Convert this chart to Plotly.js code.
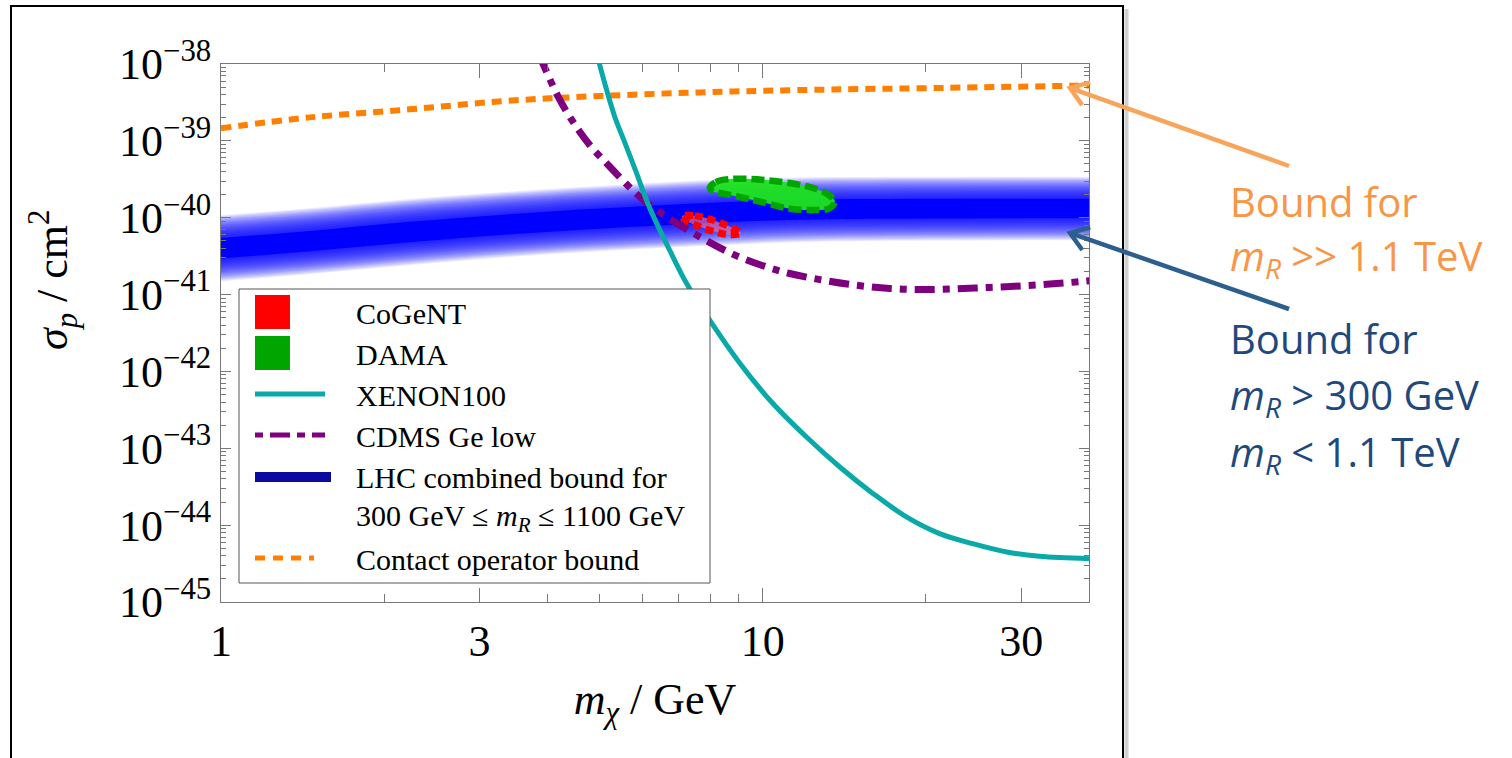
<!DOCTYPE html>
<html><head><meta charset="utf-8">
<script src="https://cdn.plot.ly/plotly-3.0.1.min.js"></script>
<style>html,body{margin:0;padding:0;background:#fff;overflow:hidden}#chart{width:1512px;height:758px}</style>
</head><body><div id="chart"></div>
<script>
// ---------- data ----------
const massTicks = [1, 3, 10, 30];
const massTickText = ['1', '3', '10', '30'];
const massMinorTicks = [2, 4, 5, 6, 7, 8, 9, 20, 40];
const sigmaTicks = [1e-38, 1e-39, 1e-40, 1e-41, 1e-42, 1e-43, 1e-44, 1e-45];
const sigmaTickText = ['10<sup>−38</sup>', '10<sup>−39</sup>', '10<sup>−40</sup>', '10<sup>−41</sup>',
                       '10<sup>−42</sup>', '10<sup>−43</sup>', '10<sup>−44</sup>', '10<sup>−45</sup>'];

const contactMass  = [1, 1.46, 2.23, 3.37, 5.0, 7.65, 11.5, 22, 40];
const contactSigma = [1.46e-39, 2.02e-39, 2.57e-39, 3.31e-39, 3.83e-39, 4.27e-39, 4.57e-39, 4.9e-39, 5.25e-39];

const lhcMass  = [1, 1.46, 2.23, 3.37, 5.0, 7.65, 11.5, 22, 40];
const lhcUpper = [1.08e-40, 1.33e-40, 1.75e-40, 2.17e-40, 2.58e-40, 3.04e-40, 3.33e-40, 3.41e-40, 3.41e-40];
const lhcLower = [1.49e-41, 1.85e-41, 2.42e-41, 3.07e-41, 3.67e-41, 4.27e-41, 4.81e-41, 5.04e-41, 5.1e-41];

const xenonMass  = [4.96, 5.15, 5.33, 5.57, 5.85, 6.10, 6.37, 6.73, 7.23, 7.98, 9.07, 10.43, 12.04, 13.87, 15.96, 18.41, 21.2, 24.4, 28.2, 32.4, 40];
const xenonSigma = [1.2e-38, 4.58e-39, 2.06e-39, 9.27e-40, 3.78e-40, 1.69e-40, 8.43e-41, 3.78e-41, 1.40e-41, 4.65e-42, 1.28e-42,
                    3.85e-43, 1.40e-43, 5.71e-44, 2.59e-44, 1.28e-44, 7.76e-45, 5.74e-45, 4.47e-45, 3.93e-45, 3.66e-45];

const cdmsMass  = [3.85, 3.93, 4.19, 4.44, 4.76, 5.22, 5.93, 6.64, 7.65, 8.80, 10.16, 11.21, 12.9, 14.9, 17.15, 19.7, 22.8, 26.2, 30.2, 34.8, 40.1];
const cdmsSigma = [1.35e-38, 1.0e-38, 3.75e-39, 1.87e-39, 9.36e-40, 4.60e-40, 1.87e-40, 1.03e-40, 5.64e-41, 3.36e-41, 2.29e-41,
                   1.88e-41, 1.54e-41, 1.32e-41, 1.20e-41, 1.16e-41, 1.19e-41, 1.24e-41, 1.30e-41, 1.39e-41, 1.51e-41];

const cogentMass  = [7.09, 7.49, 7.98, 8.51, 9.11, 8.62, 8.08, 7.59, 7.24, 7.09];
const cogentSigma = [1.05e-40, 1.065e-40, 9.59e-41, 8.13e-41, 6.31e-41, 6.03e-41, 6.70e-41, 7.78e-41, 9.03e-41, 1.05e-40];

const damaMass  = [7.98, 8.19, 8.69, 9.46, 10.30, 11.21, 12.21, 13.07, 13.58, 13.29, 12.31, 11.21, 10.13, 9.26, 8.55, 8.08, 7.98];
const damaSigma = [2.43e-40, 2.91e-40, 3.19e-40, 3.19e-40, 3.04e-40, 2.83e-40, 2.50e-40, 2.09e-40, 1.64e-40, 1.33e-40,
                   1.26e-40, 1.31e-40, 1.55e-40, 1.80e-40, 2.03e-40, 2.22e-40, 2.43e-40];

const legendLabels = ['CoGeNT', 'DAMA', 'XENON100', 'CDMS Ge low', 'LHC combined bound for',
                      '300 GeV ≤ <i>m</i><sub><i>R</i></sub> ≤ 1100 GeV', 'Contact operator bound'];
const noteOrange = ['Bound for', '<i>m</i><sub><i>R</i></sub> >> 1.1 TeV'];
const noteBlue = ['Bound for', '<i>m</i><sub><i>R</i></sub> > 300 GeV', '<i>m</i><sub><i>R</i></sub> < 1.1 TeV'];

// ---------- geometry / style ----------
const PL = 221, PR = 1089, PT = 64, PB = 602;
const px = p => (p - PL) / (PR - PL);
const py = p => (PB - p) / (PB - PT);
const SERIF = 'Liberation Serif, Times New Roman, serif';
const SANS = 'Open Sans, Noto Sans, sans-serif';
const C = {orange: '#FF8000', cyan: '#0AA9A9', purple: '#7F007F', red: '#FF0000', green: '#00A500',
           blueDark: '#0A0AA0', noteOrange: '#F79646', noteBlue: '#1F497D', arrowOrange: '#F8A55C', arrowBlue: '#2C5F8E'};

const traces = [];
// LHC band drawn as nested translucent layers (lower edge + upper edge filled 'tonexty') to mimic the gradient
const lc = lhcMass.map((m, i) => (Math.log10(lhcUpper[i]) + Math.log10(lhcLower[i])) / 2);
const lh = lhcMass.map((m, i) => (Math.log10(lhcUpper[i]) - Math.log10(lhcLower[i])) / 2);
const layers = [];
for (let k = 0; k < 20; k++) layers.push({f: 1.0 - k * 0.035, c: 'rgba(0,0,255,0.09)'});
layers.push({f: 0.31, c: 'rgb(0,0,255)'});
layers.forEach(L => {
  traces.push({x: lhcMass, y: lc.map((c, i) => Math.pow(10, c - L.f * lh[i])), type: 'scatter', mode: 'lines',
    line: {width: 0, shape: 'spline'}, hoverinfo: 'skip', showlegend: false});
  traces.push({x: lhcMass, y: lc.map((c, i) => Math.pow(10, c + L.f * lh[i])), type: 'scatter', mode: 'lines',
    fill: 'tonexty', fillcolor: L.c, line: {width: 0, shape: 'spline'}, hoverinfo: 'skip', showlegend: false,
    name: 'LHC combined bound'});
});
traces.push({x: contactMass, y: contactSigma, type: 'scatter', mode: 'lines', name: 'Contact operator bound',
  line: {color: C.orange, width: 6, dash: '10px,7px', shape: 'spline'}, showlegend: false});
traces.push({x: cdmsMass, y: cdmsSigma, type: 'scatter', mode: 'lines', name: 'CDMS Ge low',
  line: {color: C.purple, width: 7, dash: '20px,8px,7px,8px', shape: 'spline'}, showlegend: false});
traces.push({x: xenonMass, y: xenonSigma, type: 'scatter', mode: 'lines', name: 'XENON100',
  line: {color: C.cyan, width: 5, shape: 'spline'}, showlegend: false});
traces.push({x: damaMass, y: damaSigma, type: 'scatter', mode: 'lines', name: 'DAMA', fill: 'toself',
  fillcolor: 'rgba(30,228,30,0.95)', line: {color: C.green, width: 6.5, dash: '13px,5px', shape: 'spline'}, showlegend: false});
traces.push({x: cogentMass, y: cogentSigma, type: 'scatter', mode: 'lines', name: 'CoGeNT', fill: 'toself',
  fillcolor: 'rgba(255,110,140,0.65)', line: {color: C.red, width: 7, dash: '8px,5px', shape: 'spline'}, showlegend: false});

// ---------- shapes: outer frame, legend, arrows ----------
const shapes = [
  {type: 'rect', xref: 'paper', yref: 'paper', x0: px(11), x1: px(1123), y0: py(800), y1: py(6),
   line: {color: '#000', width: 2}, fillcolor: 'rgba(0,0,0,0)', layer: 'below'},
  {type: 'line', xref: 'paper', yref: 'paper', x0: px(1126.5), x1: px(1126.5), y0: py(800), y1: py(9),
   line: {color: 'rgba(0,0,0,0.18)', width: 4}, layer: 'below'},
  {type: 'rect', xref: 'paper', yref: 'paper', x0: px(239), x1: px(710), y0: py(583), y1: py(289),
   line: {color: '#555', width: 1}, fillcolor: '#fff', layer: 'above'},
  {type: 'rect', xref: 'paper', yref: 'paper', x0: px(255), x1: px(290), y0: py(329), y1: py(295),
   line: {width: 0}, fillcolor: C.red, layer: 'above'},
  {type: 'rect', xref: 'paper', yref: 'paper', x0: px(255), x1: px(290), y0: py(370), y1: py(336),
   line: {width: 0}, fillcolor: C.green, layer: 'above'},
  {type: 'line', xref: 'paper', yref: 'paper', x0: px(255), x1: px(325), y0: py(394), y1: py(394),
   line: {color: C.cyan, width: 5}, layer: 'above'},
  {type: 'line', xref: 'paper', yref: 'paper', x0: px(255), x1: px(325), y0: py(435), y1: py(435),
   line: {color: C.purple, width: 5, dash: '8px,7px,20px,7px'}, layer: 'above'},
  {type: 'line', xref: 'paper', yref: 'paper', x0: px(255), x1: px(331), y0: py(477), y1: py(477),
   line: {color: C.blueDark, width: 10}, layer: 'above'},
  {type: 'line', xref: 'paper', yref: 'paper', x0: px(255), x1: px(314), y0: py(558), y1: py(558),
   line: {color: C.orange, width: 5, dash: '10px,8px'}, layer: 'above'}
];
function arrow(tail, head, color) {
  const dx = tail[0] - head[0], dy = tail[1] - head[1], len = Math.hypot(dx, dy);
  const bx = dx / len, by = dy / len, a = 35 * Math.PI / 180, s = 21;
  const p1 = [head[0] + s * (bx * Math.cos(a) - by * Math.sin(a)), head[1] + s * (bx * Math.sin(a) + by * Math.cos(a))];
  const p2 = [head[0] + s * (bx * Math.cos(a) + by * Math.sin(a)), head[1] + s * (-bx * Math.sin(a) + by * Math.cos(a))];
  shapes.push({type: 'line', xref: 'paper', yref: 'paper', x0: px(tail[0]), y0: py(tail[1]), x1: px(head[0] + 2 * bx), y1: py(head[1] + 2 * by),
    line: {color: color, width: 4.5}, layer: 'above'});
  shapes.push({type: 'path', xref: 'paper', yref: 'paper', layer: 'above',
    path: `M${px(p1[0])},${py(p1[1])} L${px(head[0])},${py(head[1])} L${px(p2[0])},${py(p2[1])}`,
    line: {color: color, width: 4.5}});
}
arrow([1289, 166], [1070, 88], C.arrowOrange);
arrow([1289, 309], [1070, 233], C.arrowBlue);

const legendY = [313, 354, 395, 436, 477, 518, 559];
const annotations = legendLabels.map((t, i) => ({
  text: t, xref: 'paper', yref: 'paper', x: px(354), y: py(legendY[i]), xanchor: 'left', yanchor: 'middle',
  showarrow: false, font: {family: SERIF, size: 30, color: '#000'}
}));
annotations.push({text: '<i>σ</i><sub><i>p</i></sub> / cm<sup>2</sup>', xref: 'paper', yref: 'paper',
  x: px(53), y: py(280), xanchor: 'center', yanchor: 'middle', textangle: -90, showarrow: false,
  font: {family: SERIF, size: 44, color: '#000'}});
const orangeY = [201, 257];
noteOrange.forEach((t, i) => annotations.push({text: t, xref: 'paper', yref: 'paper', x: px(1228), y: py(orangeY[i]),
  xanchor: 'left', yanchor: 'middle', showarrow: false, font: {family: SANS, size: 40, color: C.noteOrange}}));
const blueY = [339, 396, 453];
noteBlue.forEach((t, i) => annotations.push({text: t, xref: 'paper', yref: 'paper', x: px(1228), y: py(blueY[i]),
  xanchor: 'left', yanchor: 'middle', showarrow: false, font: {family: SANS, size: 40, color: C.noteBlue}}));

const axisCommon = {
  showline: true, linecolor: '#777', linewidth: 1, mirror: 'allticks', ticks: 'inside', tickcolor: '#777',
  tickwidth: 1, showgrid: false, zeroline: false, automargin: false,
  tickfont: {family: SERIF, size: 44, color: '#000'}
};
const layout = {
  width: 1512, height: 758,
  margin: {l: PL, r: 1512 - PR, t: PT, b: 758 - PB, pad: 0},
  paper_bgcolor: '#fff', plot_bgcolor: '#fff',
  font: {family: SERIF, color: '#000'},
  showlegend: false,
  xaxis: Object.assign({}, axisCommon, {
    type: 'log', range: [0, Math.log10(40)], tickmode: 'array', tickvals: massTicks, ticktext: massTickText,
    ticklen: 14,
    minor: {tickmode: 'array', tickvals: massMinorTicks, ticks: 'inside', ticklen: 8, tickcolor: '#777', tickwidth: 1, showgrid: false},
    title: {text: '<i>m</i><sub><i>χ</i></sub> / GeV', font: {family: SERIF, size: 44, color: '#000'}, standoff: 18}
  }),
  yaxis: Object.assign({}, axisCommon, {
    type: 'log', range: [-45, -38], tickmode: 'array', tickvals: sigmaTicks, ticktext: sigmaTickText,
    ticklen: 10,
    minor: {tickmode: 'array',
      tickvals: sigmaTicks.slice(1).flatMap(d => [2, 3, 4, 5, 6, 7, 8, 9].map(k => k * d)),
      ticks: 'inside', ticklen: 5, tickcolor: '#777', tickwidth: 1, showgrid: false}
  }),
  shapes: shapes,
  annotations: annotations
};
Plotly.newPlot('chart', traces, layout, {displayModeBar: false, staticPlot: true});
</script>
</body></html>
